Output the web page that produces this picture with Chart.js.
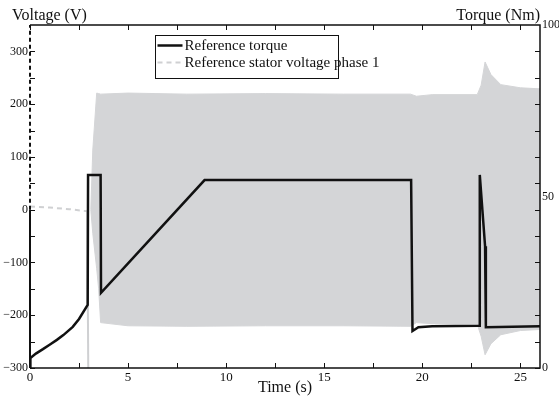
<!DOCTYPE html>
<html lang="en">

<head>
    <meta charset="UTF-8">
    <title>Reference torque and stator voltage</title>
    <style>
        html, body { margin: 0; padding: 0; background: #fff; }
        #wrap { width: 559px; height: 400px; }
    </style>
</head>

<body>
    <div id="wrap">
        <canvas id="myChart"></canvas>
    </div>

    <script src="https://cdn.jsdelivr.net/npm/chart.js"></script>

    <script>
        // reference torque (right axis, Nm)
        const torqueT  = [0, 0.02, 0.3, 0.66, 1, 1.37, 1.7, 2.18, 2.5, 2.94, 2.96, 3.6, 3.62, 8.9, 19.43, 19.5, 19.8, 20.5, 22.9, 22.93, 23.2, 23.24, 26];
        const torqueNm = [0, 2.9, 4.2, 5.5, 6.8, 8.2, 9.6, 12, 14.3, 18.4, 56.3, 56.3, 21.9, 54.8, 54.8, 10.8, 11.9, 12.2, 12.3, 56.3, 35.5, 11.9, 12.2];

        // reference stator voltage before start-up (left axis, V)
        const voltRefT = [0, 1, 2, 2.92, 2.97];
        const voltRefV = [6, 4, 1, -3, -300];

        // envelope of the stator voltage (grey band, left axis, V)
        const bandT      = [3.1, 3.2, 3.4, 3.5, 3.6, 5, 8, 12, 16, 19.4, 19.7, 20.5, 22.8, 23.0, 23.2, 23.5, 24, 25, 26];
        const bandTop    = [0, 113, 221, 220, 219, 221, 219, 220, 219, 219, 215, 218, 218, 236, 280, 256, 237, 231, 229];
        const bandBottom = [0, -45, -112, -150, -214, -220, -221, -220, -220, -221, -214, -216, -217, -240, -275, -254, -237, -229, -227];

        // ticks and tick labels
        const timeTicks    = [0, 2.5, 5, 7.5, 10, 12.5, 15, 17.5, 20, 22.5, 25];
        const timeLabels   = [0, 5, 10, 15, 20, 25];
        const voltTicks    = [-300, -250, -200, -150, -100, -50, 0, 50, 100, 150, 200, 250, 300];
        const voltLabels   = [-300, -200, -100, 0, 100, 200, 300];
        const torqueLabels = [0, 50, 100];

        const serif = '"Liberation Serif", "DejaVu Serif", serif';
        const bandGrey = '#d4d5d7';

        function pts(xs, ys) {
            return xs.map((x, i) => ({ x: x, y: ys[i] }));
        }
        function minus(v) {
            return String(v).replace('-', '\u2212');
        }

        // box, inward ticks, titles and legend (matlab look)
        const decorPlugin = {
            id: 'decor',
            afterDatasetsDraw(chart) {
                const c = chart.ctx;
                const a = chart.chartArea;
                const sx = chart.scales.x, sy = chart.scales.y;
                c.save();
                c.strokeStyle = '#111';
                c.lineWidth = 1;

                // ticks
                c.beginPath();
                sx.ticks.forEach(t => {
                    const px = Math.round(sx.getPixelForValue(t.value)) + 0.5;
                    c.moveTo(px, a.bottom); c.lineTo(px, a.bottom - 5);
                    c.moveTo(px, a.top); c.lineTo(px, a.top + 5);
                });
                sy.ticks.forEach(t => {
                    const py = Math.round(sy.getPixelForValue(t.value)) + 0.5;
                    c.moveTo(a.left, py); c.lineTo(a.left + 5, py);
                    c.moveTo(a.right, py); c.lineTo(a.right - 5, py);
                });
                c.stroke();

                // box: top, right, bottom solid
                c.lineWidth = 1.5;
                c.beginPath();
                c.moveTo(a.left, a.top); c.lineTo(a.right, a.top);
                c.lineTo(a.right, a.bottom); c.lineTo(a.left, a.bottom);
                c.stroke();
                // left spine: dashed above 0 V, solid below
                const zero = sy.getPixelForValue(0);
                c.lineWidth = 2;
                c.beginPath();
                c.moveTo(a.left, a.bottom); c.lineTo(a.left, zero);
                c.stroke();
                c.setLineDash([4, 3]);
                c.beginPath();
                c.moveTo(a.left, zero); c.lineTo(a.left, a.top);
                c.stroke();
                c.setLineDash([]);

                // titles
                c.fillStyle = '#111';
                c.font = '16px ' + serif;
                c.textBaseline = 'alphabetic';
                c.textAlign = 'left';
                c.fillText('Voltage (V)', 12, 20);
                c.textAlign = 'right';
                c.fillText('Torque (Nm)', 540, 20);
                c.textAlign = 'center';
                c.fillText('Time (s)', (a.left + a.right) / 2, 392);

                // legend
                const lx = 155.5, ly = 35.5, lw = 183, lh = 43;
                c.fillStyle = '#fff';
                c.fillRect(lx, ly, lw, lh);
                c.strokeStyle = '#111';
                c.lineWidth = 1;
                c.strokeRect(lx, ly, lw, lh);
                const items = [chart.data.datasets[0], chart.data.datasets[1]];
                items.forEach((ds, i) => {
                    const yy = ly + 10 + i * 17;
                    c.strokeStyle = ds.borderColor;
                    c.lineWidth = ds.borderWidth;
                    c.setLineDash(ds.borderDash || []);
                    c.beginPath();
                    c.moveTo(lx + 2, yy); c.lineTo(lx + 27, yy);
                    c.stroke();
                    c.setLineDash([]);
                    c.fillStyle = '#111';
                    c.font = '15px ' + serif;
                    c.textAlign = 'left';
                    c.textBaseline = 'middle';
                    c.fillText(ds.label, lx + 29, yy + 1);
                });
                c.restore();
            }
        };

        const ctx = document.getElementById('myChart');

        new Chart(ctx, {
            type: 'line',
            data: {
                datasets: [{
                    label: 'Reference torque',
                    data: pts(torqueT, torqueNm),
                    yAxisID: 'y1',
                    borderColor: '#111',
                    borderWidth: 2.5,
                    pointRadius: 0,
                    fill: false,
                    order: 0
                }, {
                    label: 'Reference stator voltage phase 1',
                    data: pts(voltRefT, voltRefV),
                    yAxisID: 'y',
                    borderColor: '#cfd0d2',
                    borderWidth: 2,
                    borderDash: [5, 4],
                    segment: {
                        borderDash: s => Math.abs(s.p1.parsed.y - s.p0.parsed.y) > 100 ? [] : [5, 4]
                    },
                    pointRadius: 0,
                    fill: false,
                    order: 1
                }, {
                    label: 'band top',
                    data: pts(bandT, bandTop),
                    yAxisID: 'y',
                    borderColor: bandGrey,
                    backgroundColor: bandGrey,
                    borderWidth: 1,
                    pointRadius: 0,
                    fill: '+1',
                    order: 2
                }, {
                    label: 'band bottom',
                    data: pts(bandT, bandBottom),
                    yAxisID: 'y',
                    borderColor: bandGrey,
                    borderWidth: 1,
                    pointRadius: 0,
                    fill: false,
                    order: 3
                }]
            },
            plugins: [decorPlugin],
            options: {
                responsive: true,
                maintainAspectRatio: false,
                animation: false,
                layout: { padding: { top: 25, right: 0, bottom: 0, left: 0 } },
                scales: {
                    x: {
                        type: 'linear',
                        min: 0,
                        max: 26,
                        grid: { display: false, drawTicks: false },
                        border: { display: false },
                        afterBuildTicks: s => { s.ticks = timeTicks.map(v => ({ value: v })); },
                        ticks: {
                            padding: 2,
                            maxRotation: 0,
                            autoSkip: false,
                            color: '#111',
                            font: { family: serif, size: 13 },
                            callback: v => timeLabels.includes(v) ? String(v) : ''
                        },
                        afterFit: s => { s.height = 32; }
                    },
                    y: {
                        position: 'left',
                        min: -300,
                        max: 350,
                        grid: { display: false, drawTicks: false },
                        border: { display: false },
                        afterBuildTicks: s => { s.ticks = voltTicks.map(v => ({ value: v })); },
                        ticks: {
                            padding: 2,
                            autoSkip: false,
                            color: '#111',
                            font: { family: serif, size: 12 },
                            callback: v => voltLabels.includes(v) ? minus(v) : ''
                        },
                        afterFit: s => { s.width = 30; }
                    },
                    y1: {
                        position: 'right',
                        min: 0,
                        max: 100,
                        grid: { display: false, drawTicks: false },
                        border: { display: false },
                        afterBuildTicks: s => { s.ticks = torqueLabels.map(v => ({ value: v })); },
                        ticks: {
                            padding: 2,
                            autoSkip: false,
                            color: '#111',
                            font: { family: serif, size: 12 },
                            callback: v => String(v)
                        },
                        afterFit: s => { s.width = 19; }
                    }
                },
                plugins: {
                    legend: { display: false },
                    tooltip: { enabled: false }
                }
            }
        });
    </script>
</body>

</html>
